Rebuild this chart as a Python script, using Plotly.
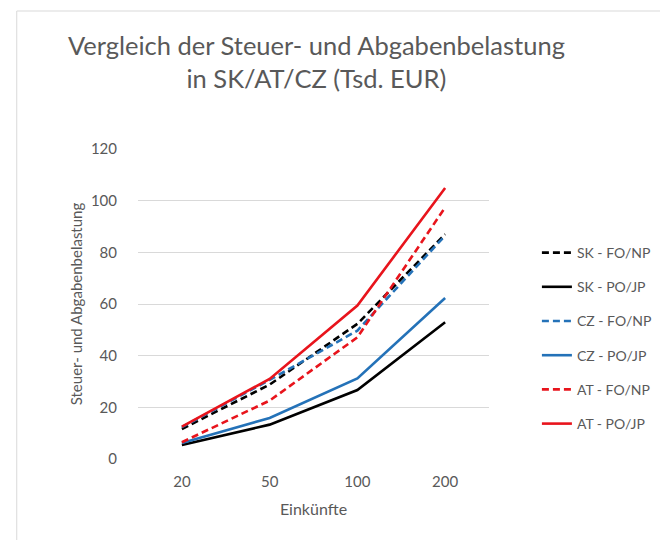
import plotly.graph_objects as go

categories = ["20", "50", "100", "200"]
sk_fo = [11.6, 28.8, 52.3, 87.0]
sk_po = [5.4, 13.3, 26.7, 52.9]
cz_fo = [12.3, 30.6, 49.7, 86.5]
cz_po = [6.2, 15.9, 31.2, 62.3]
at_fo = [6.5, 22.6, 47.1, 97.4]
at_po = [12.5, 31.0, 59.4, 104.9]

series = [
    ("SK - FO/NP", sk_fo, "#000000", "7px,4px"),
    ("SK - PO/JP", sk_po, "#000000", "solid"),
    ("CZ - FO/NP", cz_fo, "#2472B8", "7px,4px"),
    ("CZ - PO/JP", cz_po, "#2472B8", "solid"),
    ("AT - FO/NP", at_fo, "#E8141C", "7px,4px"),
    ("AT - PO/JP", at_po, "#E8141C", "solid"),
]

FONT = "Lato"
GRAY = "#595959"
W, H = 661, 533
L, T = 130, 141
PW, PH = 359, 310

fig = go.Figure()
for i, (name, vals, col, dash) in enumerate(series):
    fig.add_trace(go.Scatter(
        x=categories, y=vals, name=name, mode="lines",
        line=dict(color=col, width=2.6, dash=dash),
        legendgroup=f"g{i}",
    ))

fig.update_layout(
    width=W, height=H,
    margin=dict(l=L, r=W - L - PW, t=T, b=H - T - PH),
    paper_bgcolor="white", plot_bgcolor="white",
    font=dict(family=FONT, color=GRAY, size=14),
    title=dict(
        text="Vergleich der Steuer- und Abgabenbelastung<br>in SK/AT/CZ (Tsd. EUR)",
        x=0.5 + 3 / PW, xref="paper", xanchor="center",
        y=1 - 47 / H, yref="container", yanchor="middle",
        font=dict(family=FONT, size=25.5, color=GRAY),
    ),
    xaxis=dict(
        type="category", range=[-0.5, 3.5],
        showgrid=False, showline=False, zeroline=False,
        ticks="", ticklabelstandoff=12,
        tickfont=dict(size=15, color=GRAY),
        title=dict(text="Einkünfte", standoff=14, font=dict(size=16, color=GRAY)),
    ),
    yaxis=dict(
        range=[0, 120], dtick=20,
        showgrid=True, gridcolor="#D9D9D9", gridwidth=1.3,
        zeroline=False, showline=False, ticks="",
        ticklabelstandoff=20,
        tickfont=dict(size=15, color=GRAY),
        title=dict(text="Steuer- und Abgabenbelastung", standoff=4,
                   font=dict(size=15, color=GRAY)),
    ),
    legend=dict(
        x=(538 - 130) / PW, xanchor="left",
        y=(451 - 229) / PH, yanchor="top",
        font=dict(size=14, color=GRAY),
        tracegroupgap=13,
        bgcolor="rgba(0,0,0,0)",
    ),
    shapes=[dict(
        type="rect", xref="paper", yref="paper",
        x0=(6 - L) / PW, x1=(680 - L) / PW,
        y0=-0.5, y1=(T + PH - 3) / PH,
        line=dict(color="#D9D9D9", width=1), fillcolor="rgba(0,0,0,0)",
        layer="below",
    )],
)

fig.write_html("out.html")
